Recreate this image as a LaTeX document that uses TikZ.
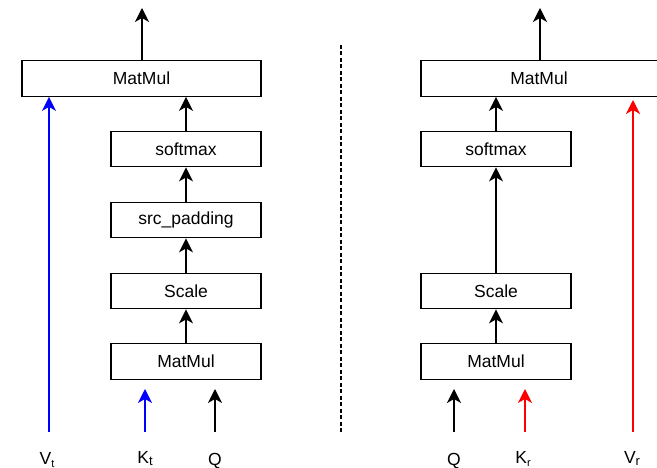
\documentclass[tikz,border=0pt]{standalone}
\usepackage{fontspec}
\setmainfont{Liberation Sans}
\usetikzlibrary{arrows.meta}
\begin{document}
\begin{tikzpicture}[x=1pt,y=-1pt,
  font=\fontsize{17.5}{20}\selectfont,
  line width=1.3pt,
  opbox/.style={draw,rectangle,minimum height=35.5pt,inner sep=0pt,line width=1.3pt},
  narrow/.style={opbox,minimum width=150pt},
  wide/.style={opbox,minimum width=239pt},
  flow/.style={-{Stealth[length=14pt,width=14pt,inset=4pt]},line width=1.3pt},
  inlabel/.style={anchor=base,inner sep=0pt},
]
\useasboundingbox (0,0) rectangle (657,468);

% left branch: padded attention
\node[wide]   (mmt) at (141.5,78.5) {MatMul};
\node[narrow] (smt) at (186,149)    {softmax};
\node[narrow] (spt) at (186,220)    {src\_padding};
\node[narrow] (sct) at (186,291)    {Scale};
\node[narrow] (mbt) at (186,361.5)  {MatMul};

\coordinate (outt) at (142,8);
\coordinate (vt) at (49,432);
\coordinate (kt) at (145,432);
\coordinate (qt) at (215,432);

\draw[flow] (mmt.north -| outt) -- (outt);
\draw[flow] (smt.north) -- (smt.north |- mmt.south);
\draw[flow] (spt.north) -- (smt.south);
\draw[flow] (sct.north) -- (spt.south);
\draw[flow] (mbt.north) -- (sct.south);
\draw[flow,blue] (vt) -- (vt |- mmt.south);
\draw[flow,blue] (kt) -- ++(0,-43);
\draw[flow] (qt) -- ++(0,-43);

\node[inlabel] (lvt) at (47,464) {V\raisebox{-3pt}{\fontsize{11}{11}\selectfont t}};
\node[inlabel] (lkt) at (145,463) {K\raisebox{-2.5pt}{\fontsize{13}{13}\selectfont t}};
\node[inlabel] (lqt) at (215,465.5) {Q};

% separator
\coordinate (sepa) at (341,45);
\coordinate (sepb) at (341,432);
\draw[dash pattern=on 4pt off 2.5pt] (sepa) -- (sepb);

% right branch
\node[opbox,minimum width=242pt] (mmr) at (542,78.5) {};
\node (mmrt) at (539,78.5) {MatMul};
\node[narrow] (smr) at (496,149)   {softmax};
\node[narrow] (scr) at (496,291)   {Scale};
\node[narrow] (mbr) at (496,361.5) {MatMul};

\coordinate (outr) at (540,8);
\coordinate (qr) at (454,432);
\coordinate (kr) at (525,432);
\coordinate (vr) at (633,432);

\draw[flow] (mmr.north -| outr) -- (outr);
\draw[flow] (smr.north) -- (smr.north |- mmr.south);
\draw[flow] (scr.north) -- (smr.south);
\draw[flow] (mbr.north) -- (scr.south);
\draw[flow] (qr) -- ++(0,-43);
\draw[flow,red] (kr) -- ++(0,-43);
\draw[flow,red] (vr) -- (633,100);

\node[inlabel] (lqr) at (454,465.5) {Q};
\node[inlabel] (lkr) at (523,463) {K\raisebox{-3pt}{\fontsize{11}{11}\selectfont r}};
\node[inlabel] (lvr) at (632,463) {V\raisebox{-2.5pt}{\fontsize{13}{13}\selectfont r}};
\end{tikzpicture}
\end{document}
